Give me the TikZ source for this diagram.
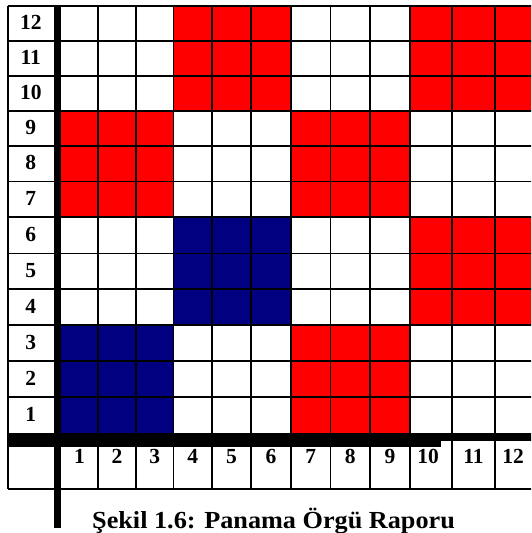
\documentclass[tikz,border=0pt]{standalone}
\usepackage{fontspec}
\setmainfont{Liberation Serif}
\definecolor{wred}{RGB}{255,0,0}
\definecolor{wnavy}{RGB}{0,0,128}
\begin{document}
\begin{tikzpicture}[x=1pt,y=-1pt,
  gridline/.style={line width=1.6pt,black},
  numlabel/.style={inner sep=0pt,font=\bfseries\fontsize{21.5}{25}\selectfont},
  redblock/.style={fill=wred},
  blueblock/.style={fill=wnavy},
  thickbar/.style={fill=black}]
\useasboundingbox (0,0) rectangle (531,533);
\begin{scope}
\clip (0,0) rectangle (531,533);
% coloured blocks
\fill[redblock] (173.5,6) rectangle (291,111);
\fill[redblock] (410,6) rectangle (540,111);
\fill[redblock] (61,111) rectangle (173.5,217);
\fill[redblock] (291,111) rectangle (410,217);
\fill[blueblock] (173.5,217) rectangle (291,325);
\fill[redblock] (410,217) rectangle (540,325);
\fill[blueblock] (61,325) rectangle (173.5,433);
\fill[redblock] (291,325) rectangle (410,433);
% horizontal grid lines
\foreach \yy in {6,41,76,111,146,181.5,217,253.5,289,325,361,397,489}
  \draw[gridline] (8,\yy) -- (540,\yy);
% vertical grid lines
\foreach \xx in {8,98,136,173.5,212,251,291,330.5,370,410,452,495}
  \draw[gridline] (\xx,6) -- (\xx,489);
% thick bars
\fill[thickbar] (8,433) rectangle (540,440.7);
\fill[thickbar] (8,440.7) rectangle (441,447);
\fill[thickbar] (53.5,5.2) rectangle (61,528);
\end{scope}
% row labels
\foreach \n/\yy in {12/23.5,11/58.5,10/93.5,9/128.5,8/163.7,7/199.2,6/235.2,5/271.2,4/307,3/343,2/379,1/415}
  \node[numlabel] (r\n) at (30.8,\yy-1) {\n};
% column labels
\foreach \n/\xx in {1/79.5,2/117,3/154.7,4/192.7,5/231.5,6/271,7/310.7,8/350.2,9/390,10/428,11/473.5,12/513}
  \node[numlabel,anchor=base] (c\n) at (\xx,463) {\n};
% caption
\node[inner sep=0pt,anchor=base west,font=\bfseries\fontsize{24.5}{28}\selectfont] (caption) at (92,528)
  {\scalebox{1.07}[1]{Şekil 1.6: Panama Örgü Raporu}};
\end{tikzpicture}
\end{document}
